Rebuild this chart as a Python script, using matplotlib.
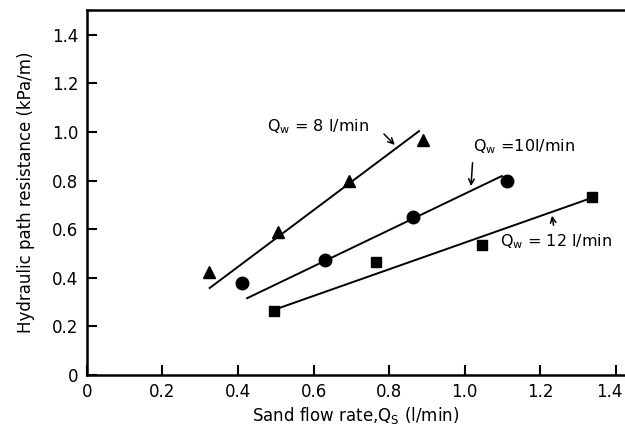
import numpy as np
import matplotlib
matplotlib.use('Agg')
import matplotlib.pyplot as plt
import matplotlib.transforms as mtransforms

# measured points, Qw = 8, 10, 12 l/min
qs8 = [0.323, 0.505, 0.693, 0.889]
r8 = [0.424, 0.589, 0.800, 0.967]
qs10 = [0.41, 0.630, 0.862, 1.111]
r10 = [0.379, 0.473, 0.651, 0.799]
qs12 = [0.495, 0.765, 1.045, 1.336]
r12 = [0.263, 0.465, 0.535, 0.733]

# fitted lines (end points)
fit8_x = [0.325, 0.879]
fit8_y = [0.358, 1.004]
fit10_x = [0.424, 1.098]
fit10_y = [0.316, 0.819]
fit12_x = [0.495, 1.336]
fit12_y = [0.268, 0.729]

xticks = [0, 0.2, 0.4, 0.6, 0.8, 1.0, 1.2, 1.4]
xlabels = ['0', '0.2', '0.4', '0.6', '0.8', '1.0', '1.2', '1.4']
yticks = [0, 0.2, 0.4, 0.6, 0.8, 1.0, 1.2, 1.4]
ylabels = ['0', '0.2', '0.4', '0.6', '0.8', '1.0', '1.2', '1.4']

plt.rcParams['font.family'] = 'DejaVu Sans'
plt.rcParams['mathtext.default'] = 'regular'

fig = plt.figure(figsize=(6.25, 4.3), dpi=100)
ax = fig.add_axes([0.139, 0.128, 0.861, 0.849])

ax.plot(fit8_x, fit8_y, color='black', lw=1.4)
ax.plot(fit10_x, fit10_y, color='black', lw=1.4)
ax.plot(fit12_x, fit12_y, color='black', lw=1.4)
ax.plot(qs8, r8, '^', color='black', ms=9)
ax.plot(qs10, r10, 'o', color='black', ms=9)
ax.plot(qs12, r12, 's', color='black', ms=7.5)

arr = dict(arrowstyle='->', color='black', lw=1.1)
ax.annotate('', xy=(0.820, 0.939), xytext=(0.781, 1.000), arrowprops=arr)
ax.annotate('', xy=(1.016, 0.766), xytext=(1.021, 0.885), arrowprops=arr)
ax.annotate('', xy=(1.230, 0.667), xytext=(1.236, 0.605), arrowprops=arr)
ax.text(0.476, 1.021, 'Q$_w$ = 8 l/min', fontsize=11.5, va='center')
ax.text(1.021, 0.939, 'Q$_w$ =10l/min', fontsize=11.5, va='center')
ax.text(1.093, 0.548, 'Q$_w$ = 12 l/min', fontsize=11.5, va='center')

ax.set_xlim(0, 1.424)
ax.set_ylim(0, 1.503)
ax.set_xticks(xticks)
ax.set_xticklabels(xlabels)
ax.set_yticks(yticks)
ax.set_yticklabels(ylabels)
ax.tick_params(direction='in', length=7, width=1.5, labelsize=12, pad=6)
ax.spines['right'].set_visible(False)
for s in ['left', 'bottom', 'top']:
    ax.spines[s].set_linewidth(1.8)

# keep the last x label inside the figure
last = ax.get_xticklabels()[-1]
last.set_transform(last.get_transform() +
                   mtransforms.ScaledTranslation(-5 / 72, 0, fig.dpi_scale_trans))

ax.set_xlabel('Sand flow rate,Q$_S$ (l/min)', fontsize=12, labelpad=3)
ax.set_ylabel('Hydraulic path resistance (kPa/m)', fontsize=12, labelpad=12)

fig.savefig('out.png', dpi=100)
